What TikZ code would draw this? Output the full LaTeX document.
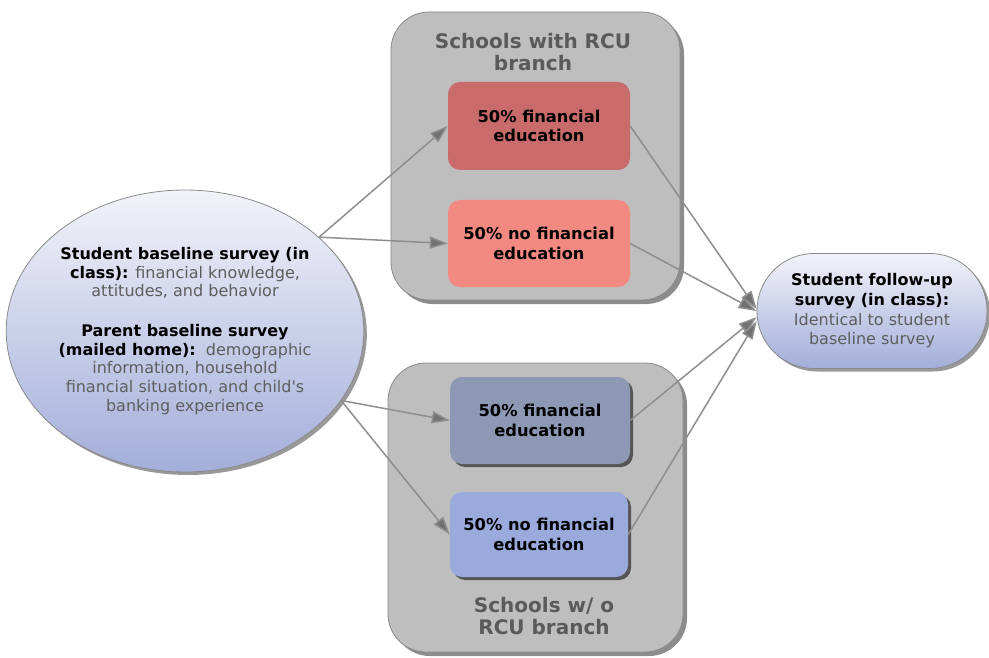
\documentclass[tikz,border=0pt]{standalone}
\usepackage{fontspec}
\setmainfont{DejaVu Sans}
\usetikzlibrary{shadows,arrows.meta,shapes.geometric}
\definecolor{groupfill}{HTML}{BEBEBE}
\definecolor{groupline}{HTML}{8A8A8A}
\definecolor{titlegray}{HTML}{5A5A5A}
\definecolor{txtgray}{HTML}{5E5E5E}
\definecolor{redA}{HTML}{C96B6B}
\definecolor{redB}{HTML}{F28A82}
\definecolor{blueA}{HTML}{8D99B4}
\definecolor{blueB}{HTML}{9AAADC}
\definecolor{surveyTop}{HTML}{F2F3F9}
\definecolor{surveyBot}{HTML}{A3AEDA}
\definecolor{flow}{HTML}{8E8E8E}
\definecolor{flowtip}{HTML}{727272}
\tikzset{
  groupbox/.style={draw=groupline, fill=groupfill, rounded corners=38pt, line width=0.8pt,
    drop shadow={shadow xshift=4pt, shadow yshift=-4pt, fill=black, opacity=0.45}},
  armbox/.style={rounded corners=12pt, align=center, font=\fontsize{16.3}{19.5}\selectfont\bfseries,
    text=black},
  armshadow/.style={drop shadow={shadow xshift=3pt, shadow yshift=-3pt, fill=black, opacity=0.55}},
  grouptitle/.style={align=center, text=titlegray, font=\fontsize{20}{22}\selectfont\bfseries},
  survey/.style={draw=groupline, line width=0.8pt, top color=surveyTop, bottom color=surveyBot,
    align=center, font=\fontsize{16}{18.7}\selectfont,
    drop shadow={shadow xshift=3pt, shadow yshift=-3pt, fill=black, opacity=0.4}},
  flowline/.style={draw=flow, line width=1.5pt,
    -{Triangle[length=18pt,width=12pt,fill=flowtip]}},
}
\begin{document}
\begin{tikzpicture}[x=1pt,y=-1pt]
\useasboundingbox (0,0) rectangle (989,658);

% school groups
\node[groupbox, minimum width=289pt, minimum height=288pt] (g1) at (535.5,156) {};
\node[groupbox, minimum width=295pt, minimum height=289pt] (g2) at (535.5,507.5) {};
\node[grouptitle] (t1) at (533,52) {Schools with RCU\\branch};
\node[grouptitle] (t2) at (544,616) {Schools w/ o\\RCU branch};

% treatment arms
\node[armbox, fill=redA, minimum width=182pt, minimum height=88pt] (r1) at (539,126)
  {50\% financial\\education};
\node[armbox, fill=redB, minimum width=182pt, minimum height=87pt] (r2) at (539,243.5)
  {50\% no financial\\education};
\node[armbox, armshadow, fill=blueA, minimum width=180pt, minimum height=87pt] (b1) at (540,420.5)
  {50\% financial\\education};
\node[armbox, armshadow, fill=blueB, minimum width=178pt, minimum height=85pt] (b2) at (539,534.5)
  {50\% no financial\\education};

% surveys
\node[survey, ellipse, minimum width=356pt, minimum height=282pt, inner sep=0pt] (base) at (185,331)
  {\textbf{Student baseline survey (in}\\
   \textbf{class):} {\color{txtgray}financial knowledge,}\\
   {\color{txtgray}attitudes, and behavior}\\[21pt]
   \textbf{Parent baseline survey}\\
   \textbf{(mailed home):}\ \ {\color{txtgray}demographic}\\
   {\color{txtgray}information, household}\\
   {\color{txtgray}financial situation, and child\textquotesingle s}\\
   {\color{txtgray}banking experience}};
\node[survey, rounded corners=57pt, minimum width=230pt, minimum height=115pt,
  font=\fontsize{16}{19.7}\selectfont] (fu) at (872,311)
  {\textbf{Student follow-up}\\
   \textbf{survey (in class):}\\
   {\color{txtgray}Identical to student}\\
   {\color{txtgray}baseline survey}};

% assignment flows
\draw[flowline] (base.35.5) -- (r1.west);
\draw[flowline] (base.35.5) -- (r2.west);
\draw[flowline] (base.-24.2) -- (b1.west);
\draw[flowline] (base.-24.2) -- (b2.west);

% follow-up flows
\draw[flowline] (r1.east) -- (fu.179);
\draw[flowline] (r2.east) -- (fu.180);
\draw[flowline] (b1.east) -- (fu.183);
\draw[flowline] (b2.east) -- (fu.185);
\end{tikzpicture}
\end{document}
